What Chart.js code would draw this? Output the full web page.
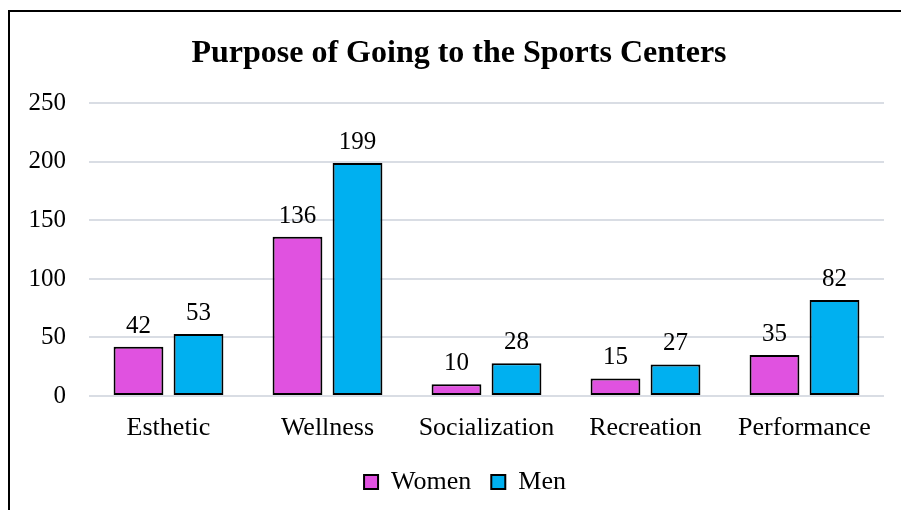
<!DOCTYPE html>
<html>
<head>
<meta charset="utf-8">
<script src="https://cdn.jsdelivr.net/npm/chart.js@4/dist/chart.umd.min.js"></script>
<style>
  html, body { margin: 0; padding: 0; background: #fff; }
  body { width: 901px; height: 510px; overflow: hidden; position: relative; }
  #frame {
    position: absolute; left: 8px; top: 10px; width: 893px; height: 500px;
    border-left: 2px solid #000; border-top: 2px solid #000; box-sizing: border-box;
  }
  #wrap { position: absolute; left: 10px; top: 12px; width: 891px; height: 498px; }
</style>
</head>
<body>
<div id="frame"></div>
<div id="wrap"><canvas id="myChart"></canvas></div>
<script>
const categories = ['Esthetic', 'Wellness', 'Socialization', 'Recreation', 'Performance'];
const women = [42, 136, 10, 15, 35];
const men = [53, 199, 28, 27, 82];
const yTicks = [0, 50, 100, 150, 200, 250];

const serif = '"Liberation Serif", "Times New Roman", serif';

// draws the value above each bar
const barLabels = {
  id: 'barLabels',
  afterDatasetsDraw(chart) {
    const ctx = chart.ctx;
    ctx.save();
    ctx.font = '25px ' + serif;
    ctx.fillStyle = '#000';
    ctx.textAlign = 'center';
    ctx.textBaseline = 'alphabetic';
    chart.data.datasets.forEach((ds, i) => {
      chart.getDatasetMeta(i).data.forEach((bar, j) => {
        ctx.fillText(ds.data[j], bar.x, bar.y - 14);
      });
    });
    ctx.restore();
  }
};

// title and legend sit a bit right of the plot centre in the original
const nudge = {
  id: 'nudge',
  afterLayout(chart) {
    if (chart.titleBlock) { chart.titleBlock.left += 12; chart.titleBlock.right += 12; }
    if (chart.legend) { chart.legend.left += 18; chart.legend.right += 18; }
  }
};

const data = {
  labels: categories,
  datasets: [
    {
      label: 'Women',
      data: women,
      backgroundColor: '#E052E0',
      borderColor: '#000',
      borderWidth: 2,
      borderSkipped: false
    },
    {
      label: 'Men',
      data: men,
      backgroundColor: '#00B0F0',
      borderColor: '#000',
      borderWidth: 2,
      borderSkipped: false
    }
  ]
};

const config = {
  type: 'bar',
  data: data,
  plugins: [barLabels, nudge],
  options: {
    responsive: true,
    maintainAspectRatio: false,
    animation: false,
    categoryPercentage: 0.755,
    barPercentage: 0.83,
    layout: { padding: { left: 0, right: 17, top: 8, bottom: 5 } },
    plugins: {
      title: {
        display: true,
        text: 'Purpose of Going to the Sports Centers',
        color: '#000',
        font: { family: serif, size: 32, weight: 'bold' },
        padding: { top: 15, bottom: 30 }
      },
      legend: {
        position: 'bottom',
        labels: {
          color: '#000',
          font: { family: serif, size: 26 },
          boxWidth: 14,
          boxHeight: 14,
          padding: 20
        }
      },
      tooltip: { enabled: false }
    },
    scales: {
      x: {
        afterFit: (axis) => { axis.height = 53; },
        grid: { display: false },
        border: { display: false },
        ticks: { color: '#000', font: { family: serif, size: 26 }, padding: 9 }
      },
      y: {
        min: 0,
        max: 250,
        afterFit: (axis) => { axis.width = 79; },
        afterBuildTicks: (axis) => { axis.ticks = yTicks.map(v => ({ value: v })); },
        grid: { color: '#D9DDE4', lineWidth: 2, drawTicks: false },
        border: { display: false },
        ticks: { color: '#000', font: { family: serif, size: 25 }, padding: 23 }
      }
    }
  }
};

const myChartConfig = new Chart('myChart', config);
</script>
</body>
</html>
